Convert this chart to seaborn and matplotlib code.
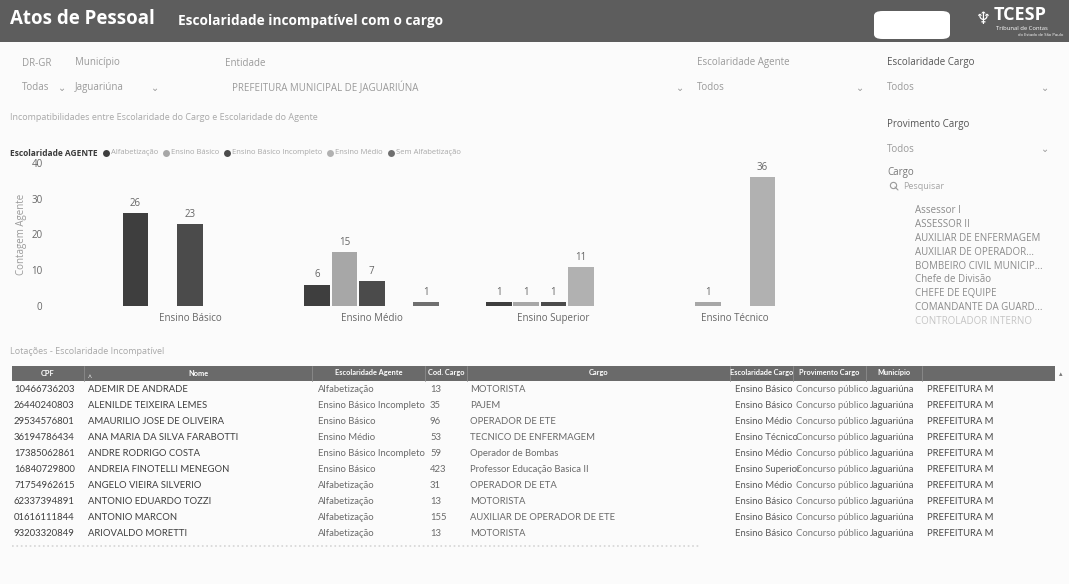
import matplotlib
matplotlib.use("Agg")
import matplotlib.pyplot as plt
import seaborn as sns
import pandas as pd
from matplotlib.patches import FancyBboxPatch, Rectangle

W, H = 1069, 584

# ---------------- data ----------------
cargo_levels = ["Ensino Básico", "Ensino Médio", "Ensino Superior", "Ensino Técnico"]
agente_levels = ["Alfabetização", "Ensino Básico", "Ensino Básico Incompleto",
                 "Ensino Médio", "Sem Alfabetização"]
count_alfabetizacao = [26, 6, 1, 0]
count_ensino_basico = [0, 15, 1, 1]
count_basico_incompleto = [23, 7, 1, 0]
count_ensino_medio = [0, 0, 11, 36]
count_sem_alfabetizacao = [0, 1, 0, 0]
y_ticks = [0, 10, 20, 30, 40]

filter_labels = ["DR-GR", "Município", "Entidade", "Escolaridade Agente", "Escolaridade Cargo"]
filter_values = ["Todas", "Jaguariúna", "PREFEITURA MUNICIPAL DE JAGUARIÚNA", "Todos", "Todos"]

cargo_list = ["Assessor I", "ASSESSOR II", "AUXILIAR DE ENFERMAGEM",
              "AUXILIAR DE OPERADOR...", "BOMBEIRO CIVIL MUNICIP...",
              "Chefe de Divisão", "CHEFE DE EQUIPE", "COMANDANTE DA GUARD...",
              "CONTROLADOR INTERNO"]

table_columns = ["CPF", "Nome", "Escolaridade Agente", "Cod. Cargo", "Cargo",
                 "Escolaridade Cargo", "Provimento Cargo", "Município", ""]
col_cpf = ["10466736203", "26440240803", "29534576801", "36194786434", "17385062861",
           "16840729800", "71754962615", "62337394891", "01616111844", "93203320849"]
col_nome = ["ADEMIR DE ANDRADE", "ALENILDE TEIXEIRA LEMES", "AMAURILIO JOSE DE OLIVEIRA",
            "ANA MARIA DA SILVA FARABOTTI", "ANDRE RODRIGO COSTA", "ANDREIA FINOTELLI MENEGON",
            "ANGELO VIEIRA SILVERIO", "ANTONIO EDUARDO TOZZI", "ANTONIO MARCON",
            "ARIOVALDO MORETTI"]
col_esc_agente = ["Alfabetização", "Ensino Básico Incompleto", "Ensino Básico", "Ensino Médio",
                  "Ensino Básico Incompleto", "Ensino Básico", "Alfabetização", "Alfabetização",
                  "Alfabetização", "Alfabetização"]
col_cod = ["13", "35", "96", "53", "59", "423", "31", "13", "155", "13"]
col_cargo = ["MOTORISTA", "PAJEM", "OPERADOR DE ETE", "TECNICO DE ENFERMAGEM",
             "Operador de Bombas", "Professor Educação Basica II", "OPERADOR DE ETA",
             "MOTORISTA", "AUXILIAR DE OPERADOR DE ETE", "MOTORISTA"]
col_esc_cargo = ["Ensino Básico", "Ensino Básico", "Ensino Médio", "Ensino Técnico",
                 "Ensino Médio", "Ensino Superior", "Ensino Médio", "Ensino Básico",
                 "Ensino Básico", "Ensino Básico"]
col_provimento = ["Concurso público"] * 10
col_municipio = ["Jaguariúna"] * 10
col_entidade = ["PREFEITURA M"] * 10

# ---------------- style ----------------
sns.set_theme(style="white")
plt.rcParams["font.family"] = ["Open Sans", "DejaVu Sans"]
TABLE_FONT = ["Lato", "DejaVu Sans"]

series = [count_alfabetizacao, count_ensino_basico, count_basico_incompleto,
          count_ensino_medio, count_sem_alfabetizacao]
rows = []
for lvl, vals in zip(agente_levels, series):
    for cat, v in zip(cargo_levels, vals):
        rows.append({"cargo": cat, "agente": lvl, "count": v})
df = pd.DataFrame(rows)

palette = {"Alfabetização": "#3e3e3e", "Ensino Básico": "#a7a7a7",
           "Ensino Básico Incompleto": "#4b4b4b", "Ensino Médio": "#b1b1b1",
           "Sem Alfabetização": "#6f6f6f"}

fig = plt.figure(figsize=(W / 100, H / 100), dpi=100)
fig.patch.set_facecolor("#fbfbfb")
renderer = fig.canvas.get_renderer()


def X(px):
    return px / W


def Y(py):
    return 1 - py / H


def width_px(t):
    return t.get_window_extent(renderer).width


# header band
fig.patches.append(Rectangle((0, Y(42)), 1, 42 / H, transform=fig.transFigure,
                             facecolor="#5d5d5d", edgecolor="none", zorder=0))
fig.text(X(10), Y(19), "Atos de Pessoal", color="white", fontsize=13.5,
         fontweight="bold", va="center", ha="left")
fig.text(X(178), Y(21), "Escolaridade incompatível com o cargo", color="white",
         fontsize=9.8, fontweight="bold", va="center", ha="left")
fig.patches.append(FancyBboxPatch((X(874), Y(39)), X(76), 28 / H,
                                  boxstyle="round,pad=0,rounding_size=0.008",
                                  transform=fig.transFigure, facecolor="white",
                                  edgecolor="none"))
fig.text(X(983), Y(19), "♆", color="white", fontsize=12, va="center", ha="center",
         family=["DejaVu Sans"])
fig.text(X(994), Y(15), "TCESP", color="white", fontsize=13, fontweight="bold",
         va="center", ha="left")
fig.text(X(996), Y(28), "Tribunal de Contas", color="white", fontsize=4.2,
         va="center", ha="left")
fig.text(X(1018), Y(35), "do Estado de São Paulo", color="white", fontsize=3,
         va="center", ha="left")

# filters
lab_x = [22, 75, 225, 697, 887]
arrow_x = [62, 155, 680, 860, 1045]
for i, (lab, val) in enumerate(zip(filter_labels, filter_values)):
    col = "#555555" if i == 4 else "#9a9a9a"
    fig.text(X(lab_x[i]), Y(63), lab, color=col, fontsize=7, va="center")
    fig.text(X(lab_x[i] + (7 if i == 2 else 0)), Y(88), val, color="#9a9a9a",
             fontsize=7, va="center")
    fig.text(X(arrow_x[i]), Y(88), "⌄", color="#9a9a9a", fontsize=7,
             va="center", ha="center", family=["DejaVu Sans"])

# right panel slicers
fig.text(X(887), Y(125), "Provimento Cargo", color="#555555", fontsize=7, va="center")
fig.text(X(887), Y(149), "Todos", color="#9a9a9a", fontsize=7, va="center")
fig.text(X(1045), Y(149), "⌄", color="#9a9a9a", fontsize=7, va="center",
         ha="center", family=["DejaVu Sans"])
fig.text(X(887), Y(173), "Cargo", color="#777777", fontsize=7, va="center")
# magnifier symbol drawn as shape
fig.lines.append(plt.Line2D([X(893)], [Y(185)], transform=fig.transFigure, marker="o",
                            markersize=4.5, markerfacecolor="none",
                            markeredgecolor="#9a9a9a", markeredgewidth=0.8,
                            linestyle="none"))
fig.lines.append(plt.Line2D([X(895), X(898)], [Y(187), Y(190)], transform=fig.transFigure,
                            color="#9a9a9a", linewidth=0.8))
fig.text(X(903), Y(186), "Pesquisar", color="#a5a5a5", fontsize=6.5, va="center")
for k, item in enumerate(cargo_list):
    fig.text(X(915), Y(211 + 13.8 * k), item, color="#8a8a8a" if k < 8 else "#c4c4c4",
             fontsize=7, va="center")

# chart subtitle + legend
fig.text(X(10), Y(118), "Incompatibilidades entre Escolaridade do Cargo e Escolaridade do Agente",
         color="#a8a8a8", fontsize=6.5, va="center")
t0 = fig.text(X(10), Y(153), "Escolaridade AGENTE", color="#3a3a3a", fontsize=6,
              fontweight="bold", va="center")
cur = 10 + width_px(t0) + 5
for lvl in agente_levels:
    fig.lines.append(plt.Line2D([X(cur + 3)], [Y(153)], transform=fig.transFigure,
                                marker="o", markersize=5, color=palette[lvl],
                                markeredgewidth=0, linestyle="none"))
    tt = fig.text(X(cur + 8), Y(153), lvl, color="#a8a8a8", fontsize=5.5, va="center")
    cur = cur + 8 + width_px(tt) + 5

# bar chart
ax = fig.add_axes([X(55), Y(306), X(860 - 55), (306 - 163) / H])
sns.barplot(data=df, x="cargo", y="count", hue="agente", order=cargo_levels,
            hue_order=agente_levels, palette=palette, width=0.75, gap=0.06,
            errorbar=None, linewidth=0, legend=False, ax=ax)
for cont in ax.containers:
    labels = [f"{int(v)}" if v > 0 else "" for v in cont.datavalues]
    ax.bar_label(cont, labels=labels, padding=3, fontsize=7, color="#666666")
ax.set_xlim(-0.743, 3.687)
ax.set_ylim(0, 40)
ax.set_yticks(y_ticks)
ax.set_facecolor("none")
for s in ax.spines.values():
    s.set_visible(False)
ax.tick_params(axis="both", length=0, labelsize=7, colors="#666666")
ax.tick_params(axis="y", pad=9)
ax.tick_params(axis="x", pad=5)
ax.set_xlabel("")
ax.set_ylabel("Contagem Agente", fontsize=7, color="#9a9a9a", labelpad=3)

# table
fig.text(X(10), Y(352), "Lotações - Escolaridade Incompatível", color="#a8a8a8",
         fontsize=6.5, va="center")
fig.patches.append(Rectangle((X(12), Y(381)), X(1055 - 12), 15 / H,
                             transform=fig.transFigure, facecolor="#6a6a6a",
                             edgecolor="none"))
col_left = [14, 88, 318, 430, 470, 735, 796, 870, 927]
col_edges = [12, 84, 312, 425, 467, 730, 793, 866, 922, 1055]
for i, name in enumerate(table_columns):
    cx = (col_edges[i] + col_edges[i + 1]) / 2
    fig.text(X(cx), Y(373), name, color="white", fontsize=5.3, fontweight="bold",
             ha="center", va="center", family=TABLE_FONT)
for e in col_edges[1:-1]:
    fig.lines.append(plt.Line2D([X(e), X(e)], [Y(381), Y(366)], transform=fig.transFigure,
                                color="#8c8c8c", linewidth=0.6))
fig.text(X(90), Y(378), "^", color="white", fontsize=5, ha="center", va="center")
fig.text(X(1061), Y(374), "▴", color="#777777", fontsize=5, ha="center", va="center",
         family=["DejaVu Sans"])
table_cols = [col_cpf, col_nome, col_esc_agente, col_cod, col_cargo, col_esc_cargo,
              col_provimento, col_municipio, col_entidade]
col_colors = ["#3f3f3f", "#3f3f3f", "#6a6a6a", "#6a6a6a", "#6a6a6a", "#5a5a5a",
              "#7a7a7a", "#5a5a5a", "#4a4a4a"]
for r in range(len(col_cpf)):
    yy = Y(390 + 16 * r)
    for c, colvals in enumerate(table_cols):
        fig.text(X(col_left[c]), yy, colvals[r], color=col_colors[c], fontsize=6.8,
                 va="center", ha="left", family=TABLE_FONT)
fig.lines.append(plt.Line2D([X(12), X(700)], [Y(546), Y(546)], transform=fig.transFigure,
                            color="#d5d5d5", linewidth=1.2, linestyle=":"))

fig.savefig("out.png", dpi=100, facecolor=fig.get_facecolor())
